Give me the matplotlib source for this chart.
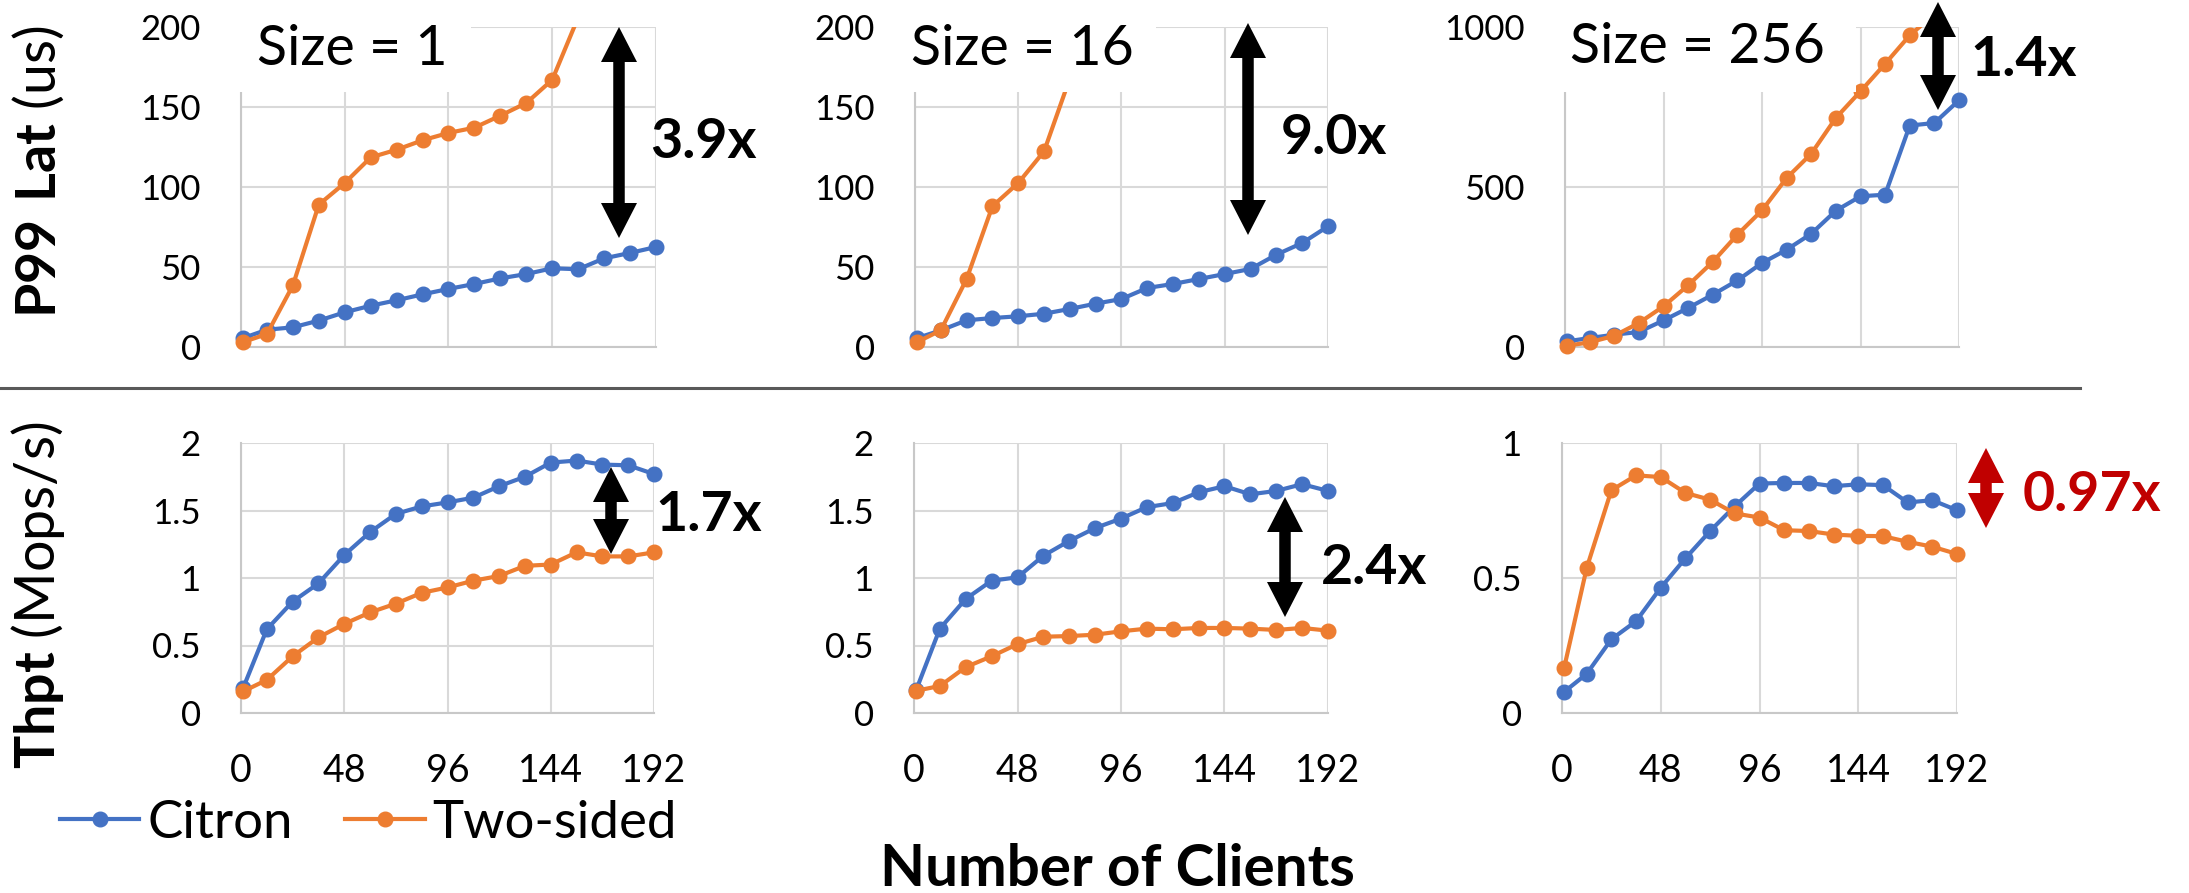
import matplotlib
matplotlib.use("Agg")
import matplotlib.pyplot as plt
from matplotlib.patches import Polygon, Rectangle
from matplotlib.lines import Line2D
from matplotlib.ticker import FuncFormatter

W, H = 2189, 893

clients = [1, 12, 24, 36, 48, 60, 72, 84, 96, 108, 120, 132, 144, 156, 168, 180, 192]
x_ticks = [0, 48, 96, 144, 192]
size_labels = ["Size = 1", "Size = 16", "Size = 256"]
ratio_labels = ["3.9x", "9.0x", "1.4x", "1.7x", "2.4x", "0.97x"]
series_names = ["Citron", "Two-sided"]

# p99 latency (us)
lat_citron_1 = [5.6, 10.8, 12.3, 16.5, 21.7, 25.8, 29.2, 32.9, 36.3, 39.4, 42.9, 45.6, 49.2, 48.6, 55.4, 58.8, 62.5]
lat_twosided_1 = [3.1, 8.1, 38.5, 89, 102.5, 118.5, 123.3, 129.2, 133.8, 137.1, 144.6, 152.5, 167, 206, 220, 232, 244]
lat_citron_16 = [5.6, 10.4, 16.7, 18.1, 19.2, 20.8, 23.8, 27.1, 30.0, 36.9, 39.4, 42.5, 45.6, 48.8, 57.7, 65.0, 75.4]
lat_twosided_16 = [3.1, 10.4, 42.5, 88, 102.5, 122.3, 168, 230, 290, 340, 390, 440, 490, 540, 590, 630, 675]
lat_citron_256 = [17.7, 28, 38.5, 47, 83, 122, 163.5, 208, 262.5, 304, 354, 426, 471, 476, 692, 700, 771]
lat_twosided_256 = [4, 14.6, 35, 75, 127, 193, 266, 351, 427, 528, 604, 716, 799, 885, 974, 1040, 1080]

# throughput (Mops/s)
thpt_citron_1 = [0.185, 0.62, 0.825, 0.96, 1.17, 1.34, 1.475, 1.53, 1.56, 1.595, 1.68, 1.75, 1.855, 1.87, 1.84, 1.835, 1.77]
thpt_twosided_1 = [0.16, 0.245, 0.42, 0.56, 0.66, 0.745, 0.81, 0.89, 0.93, 0.98, 1.015, 1.09, 1.10, 1.19, 1.16, 1.16, 1.19]
thpt_citron_16 = [0.17, 0.625, 0.845, 0.98, 1.005, 1.165, 1.275, 1.37, 1.44, 1.525, 1.555, 1.635, 1.68, 1.62, 1.645, 1.695, 1.645]
thpt_twosided_16 = [0.165, 0.2, 0.34, 0.42, 0.51, 0.565, 0.57, 0.58, 0.605, 0.625, 0.62, 0.63, 0.63, 0.625, 0.615, 0.63, 0.61]
thpt_citron_256 = [0.078, 0.145, 0.273, 0.34, 0.464, 0.573, 0.674, 0.766, 0.85, 0.852, 0.852, 0.84, 0.847, 0.844, 0.78, 0.788, 0.751]
thpt_twosided_256 = [0.166, 0.537, 0.825, 0.88, 0.874, 0.815, 0.79, 0.739, 0.724, 0.677, 0.674, 0.661, 0.656, 0.655, 0.634, 0.616, 0.589]

BLUE = "#4472c4"
ORANGE = "#ed7d31"
RED = "#c00000"
LW = 3.0
MS = 10.5

plt.rcParams["font.family"] = ["Lato", "DejaVu Sans"]
plt.rcParams["mathtext.fontset"] = "custom"
plt.rcParams["mathtext.rm"] = "Lato"
plt.rcParams["mathtext.bf"] = "Lato:bold"


def px(x, y):
    """pixel (from top-left) -> figure fraction"""
    return x / W, 1 - y / H


def add_axes(fig, left, top, right, bottom):
    return fig.add_axes([left / W, 1 - bottom / H, (right - left) / W, (bottom - top) / H])


def style_axes(ax, ymax, yticks, show_x):
    ax.set_xlim(0, 192)
    ax.set_ylim(0, ymax)
    ax.set_xticks(x_ticks)
    ax.set_yticks(yticks)
    ax.yaxis.set_major_formatter(FuncFormatter(lambda v, p: f"{v:g}"))
    ax.grid(True, color="#d9d9d9", lw=1.5)
    ax.set_axisbelow(True)
    for s in ["top", "right"]:
        ax.spines[s].set_visible(False)
    for s in ["left", "bottom"]:
        ax.spines[s].set_color("#c8c8c8")
        ax.spines[s].set_linewidth(1.5)
    ax.tick_params(length=0, pad=29)
    ax.tick_params(axis="y", labelsize=25)
    ax.tick_params(axis="x", labelsize=27)
    if not show_x:
        ax.tick_params(labelbottom=False)


def plot_series(ax, ys, color):
    line, = ax.plot(clients, ys, color=color, lw=LW, marker="o", ms=MS, zorder=3)
    # clip only at the top so edge markers stay whole
    line.set_clip_path(Rectangle((-0.1, -0.3), 1.2, 1.3, transform=ax.transAxes))


def double_arrow(fig, x, y1, y2, color="black", hw=18, hl=35, w=5.75):
    pts = [(x, y1), (x + hw, y1 + hl), (x + w, y1 + hl), (x + w, y2 - hl), (x + hw, y2 - hl),
           (x, y2), (x - hw, y2 - hl), (x - w, y2 - hl), (x - w, y1 + hl), (x - hw, y1 + hl)]
    poly = Polygon([px(a, b) for a, b in pts], closed=True, transform=fig.transFigure,
                   facecolor=color, edgecolor="none", zorder=10)
    fig.add_artist(poly)


fig = plt.figure(figsize=(W / 100, H / 100), dpi=100)

# layout in pixels: left, top, right, bottom
top_boxes = [(241, 27, 656, 347), (915, 27, 1328, 347), (1565, 27, 1959, 347)]
bot_boxes = [(241, 443, 654, 713), (914, 443, 1328, 713), (1562, 443, 1957, 713)]

lat_data = [(lat_citron_1, lat_twosided_1), (lat_citron_16, lat_twosided_16),
            (lat_citron_256, lat_twosided_256)]
thpt_data = [(thpt_citron_1, thpt_twosided_1), (thpt_citron_16, thpt_twosided_16),
             (thpt_citron_256, thpt_twosided_256)]
lat_ymax = [200, 200, 1000]
lat_yticks = [[0, 50, 100, 150, 200], [0, 50, 100, 150, 200], [0, 500, 1000]]
thpt_ymax = [2, 2, 1]
thpt_yticks = [[0, 0.5, 1, 1.5, 2], [0, 0.5, 1, 1.5, 2], [0, 0.5, 1]]

# white title boxes hide grid in the upper-left corner (right edge px, bottom px)
title_box_right = [471, 1156, 1856]
title_box_bottom = 92
title_pos = [(257, 65), (911, 65), (1570, 63)]

for i in range(3):
    ax = add_axes(fig, *top_boxes[i])
    style_axes(ax, lat_ymax[i], lat_yticks[i], show_x=False)
    plot_series(ax, lat_data[i][0], BLUE)
    plot_series(ax, lat_data[i][1], ORANGE)
    l, t, r, b = top_boxes[i]
    fx = (title_box_right[i] - l) / (r - l)
    fy = (b - title_box_bottom) / (b - t)
    ax.add_patch(Rectangle((-0.03, fy), fx + 0.03, 1.05 - fy, transform=ax.transAxes,
                           facecolor="white", edgecolor="none", zorder=5, clip_on=False))
    fig.text(*px(*title_pos[i]), size_labels[i], fontsize=40, ha="left", va="baseline")

for i in range(3):
    ax = add_axes(fig, *bot_boxes[i])
    style_axes(ax, thpt_ymax[i], thpt_yticks[i], show_x=True)
    plot_series(ax, thpt_data[i][0], BLUE)
    plot_series(ax, thpt_data[i][1], ORANGE)

# ratio arrows and labels
arrows = [(619, 27, 238), (1248, 23, 235), (1938, 2, 110),
          (611, 467, 554), (1285, 497, 617), (1986, 448, 528)]
label_pos = [(650, 158), (1281, 154), (1970, 76), (655, 531), (1321, 584), (2023, 511)]
for i in range(6):
    color = RED if i == 5 else "black"
    double_arrow(fig, *arrows[i], color=color)
    fig.text(*px(*label_pos[i]), ratio_labels[i], fontsize=40, fontweight="bold",
             color=color, ha="left", va="baseline")

# row titles
fig.text(*px(38, 172), r"$\mathbf{P99\ Lat}$ (us)", fontsize=40, rotation=90,
         ha="center", va="center")
fig.text(*px(38, 595), r"$\mathbf{Thpt}$ (Mops/s)", fontsize=40, rotation=90,
         ha="center", va="center")

# separator between the rows
fig.add_artist(Line2D([0, 2080 / W], [1 - 388 / H, 1 - 388 / H], color="#595959", lw=2.2,
                      transform=fig.transFigure))

fig.text(*px(1117, 870), "Number of Clients", fontsize=42, fontweight="bold",
         ha="center", va="center")

handles = [Line2D([], [], color=BLUE, lw=LW, marker="o", ms=MS),
           Line2D([], [], color=ORANGE, lw=LW, marker="o", ms=MS)]
fig.legend(handles, series_names, loc="center left", bbox_to_anchor=px(60, 823), ncol=2,
           frameon=False, fontsize=38, handlelength=1.5, handletextpad=0.15,
           columnspacing=1.0, borderpad=0, borderaxespad=0)

fig.savefig("out.png", dpi=100)
